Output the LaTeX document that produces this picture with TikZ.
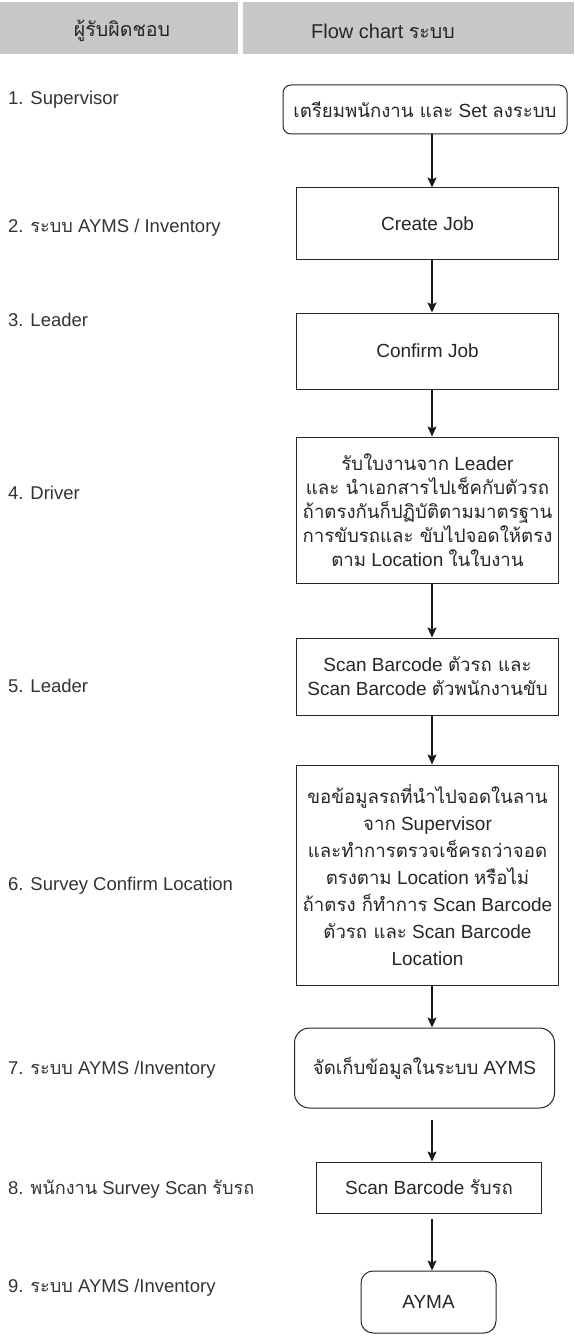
\documentclass[tikz,border=0pt]{standalone}
\usepackage{fontspec}
\setmainfont{Liberation Sans}
\newfontfamily\thai[Script=Thai,Scale=0.98]{Loma}
\usetikzlibrary{arrows.meta}
\newcommand{\tx}[1]{{\thai #1}}

\tikzset{
  hdr/.style={fill=black!22, draw=none},
  hdrtext/.style={font=\fontsize{20}{24}\selectfont, text=black!85},
  role/.style={anchor=west, font=\fontsize{18.5}{22}\selectfont, text=black!80, inner sep=0pt},
  stepbox/.style={draw=black!85, line width=1pt, align=center,
    font=\fontsize{19}{24}\selectfont, text=black!85, inner sep=0pt},
  roundbox/.style={stepbox, rounded corners=#1},
  flow/.style={draw=black!90, line width=1.5pt, -{Stealth[length=10pt,width=9pt,inset=2pt]}}
}

\begin{document}
\begin{tikzpicture}[x=1pt,y=-1pt]
\path[use as bounding box] (0,0) rectangle (574,1340);

% header bars
\fill[hdr] (0,2) rectangle (238,54);
\fill[hdr] (243,2) rectangle (574,54);
\node[hdrtext] (h1) at (122,31) {\tx{ผู้รับผิดชอบ}};
\node[hdrtext] (h2) at (383,31) {Flow chart \tx{ระบบ}};

% responsible parties
\node[role] (r1) at (8,100)  {1. Supervisor};
\node[role] (r2) at (8,228)  {2. \tx{ระบบ} AYMS / Inventory};
\node[role] (r3) at (8,320)  {3. Leader};
\node[role] (r4) at (8,493)  {4. Driver};
\node[role] (r5) at (8,686)  {5. Leader};
\node[role] (r6) at (8,886)  {6. Survey Confirm Location};
\node[role] (r7) at (8,1070) {7. \tx{ระบบ} AYMS /Inventory};
\node[role] (r8) at (8,1189) {8. \tx{พนักงาน} Survey Scan \tx{รับรถ}};
\node[role] (r9) at (8,1288) {9. \tx{ระบบ} AYMS /Inventory};

% flow chart steps
\node[roundbox=8pt, minimum width=284pt, minimum height=49pt] (b1) at (425,109.5)
  {\tx{เตรียมพนักงาน และ} Set \tx{ลงระบบ}};
\node[stepbox, minimum width=262pt, minimum height=71pt] (b2) at (427.5,223.5) {Create Job};
\node[stepbox, minimum width=262pt, minimum height=76pt] (b3) at (427.5,351) {Confirm Job};
\node[stepbox, minimum width=262pt, minimum height=146pt] (b4) at (427.5,510)
  {\tx{รับใบงานจาก} Leader\\
   \tx{และ นำเอกสารไปเช็คกับตัวรถ}\\
   \tx{ถ้าตรงกันก็ปฏิบัติตามมาตรฐาน}\\
   \tx{การขับรถและ ขับไปจอดให้ตรง}\\
   \tx{ตาม} Location \tx{ในใบงาน}};
\node[stepbox, minimum width=262pt, minimum height=77pt] (b5) at (427.5,676.5)
  {Scan Barcode \tx{ตัวรถ และ}\\
   Scan Barcode \tx{ตัวพนักงานขับ}};
\node[stepbox, minimum width=262pt, minimum height=220pt, font=\fontsize{19}{27}\selectfont] (b6) at (427.5,875)
  {\tx{ขอข้อมูลรถที่นำไปจอดในลาน}\\
   \tx{จาก} Supervisor\\
   \tx{และทำการตรวจเช็ครถว่าจอด}\\
   \tx{ตรงตาม} Location \tx{หรือไม่}\\
   \tx{ถ้าตรง ก็ทำการ} Scan Barcode\\
   \tx{ตัวรถ และ} Scan Barcode\\
   Location};
\node[roundbox=15pt, minimum width=260pt, minimum height=80pt] (b7) at (424.5,1068)
  {\tx{จัดเก็บข้อมูลในระบบ} AYMS};
\node[stepbox, minimum width=225pt, minimum height=51pt] (b8) at (429,1187.5)
  {Scan Barcode \tx{รับรถ}};
\node[roundbox=12pt, minimum width=135pt, minimum height=62pt] (b9) at (428.5,1302)
  {AYMA};

% connectors
\draw[flow] (b1.south -| 432,0) -- (b2.north -| 432,0);
\draw[flow] (b2.south -| 432,0) -- (b3.north -| 432,0);
\draw[flow] (b3.south -| 432,0) -- (b4.north -| 432,0);
\draw[flow] (b4.south -| 432,0) -- (b5.north -| 432,0);
\draw[flow] (b5.south -| 432,0) -- (b6.north -| 432,0);
\draw[flow] (b6.south -| 432,0) -- (b7.north -| 432,0);
\draw[flow, shorten <=11pt] (b7.south -| 432,0) -- (b8.north -| 432,0);
\draw[flow, shorten <=5pt] (b8.south -| 432,0) -- (b9.north -| 432,0);
\end{tikzpicture}
\end{document}
